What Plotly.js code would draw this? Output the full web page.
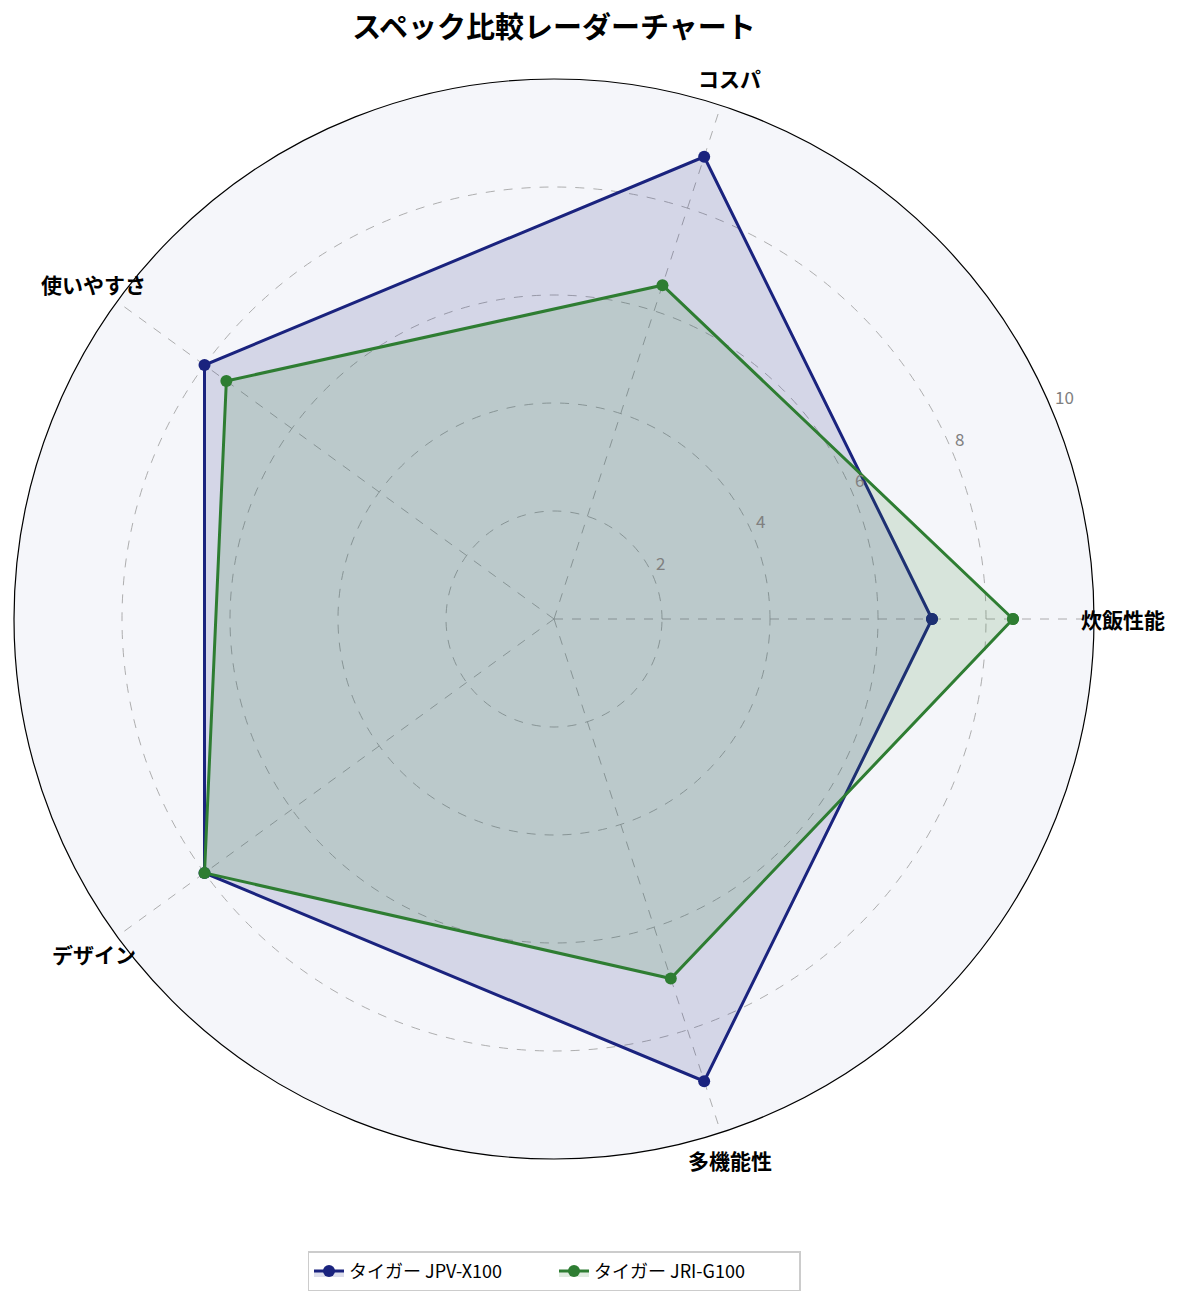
<!DOCTYPE html>
<html>
<head>
<meta charset="utf-8">
<script src="https://cdn.plot.ly/plotly-3.0.1.min.js"></script>
<style>html,body{margin:0;padding:0;background:#fff}</style>
</head>
<body>
<div id="chart" style="width:1185px;height:1304px"></div>
<script>
const categories = ["炊飯性能", "コスパ", "使いやすさ", "デザイン", "多機能性"];
const seriesNames = ["タイガー JPV-X100", "タイガー JRI-G100"];
const jpvValues = [7, 9, 8, 8, 9];
const jriValues = [8.5, 6.5, 7.5, 8, 7];
const radialTicks = [2, 4, 6, 8, 10];
const radialMax = 10;
const radialLabelAngle = 22.5;

function closeLoop(a) { return a.concat([a[0]]); }

const FONT = "'Noto Sans CJK JP', 'Noto Sans', sans-serif";

const traces = [
  {
    type: "scatterpolar",
    r: closeLoop(jpvValues),
    theta: closeLoop(categories),
    name: seriesNames[0],
    mode: "lines+markers",
    line: {color: "#1a237e", width: 3},
    marker: {color: "#1a237e", size: 12},
    fill: "toself",
    fillcolor: "rgba(26,35,126,0.15)"
  },
  {
    type: "scatterpolar",
    r: closeLoop(jriValues),
    theta: closeLoop(categories),
    name: seriesNames[1],
    mode: "lines+markers",
    line: {color: "#2e7d32", width: 3},
    marker: {color: "#2e7d32", size: 12},
    fill: "toself",
    fillcolor: "rgba(46,125,50,0.15)"
  }
];

// polar occupies the full (square) plot area: centre at paper (0.5,0.5), radius 0.5
const labelRadius = 0.527;
const categoryLabels = categories.map((c, i) => {
  const ang = i * 2 * Math.PI / categories.length;
  return {
    xref: "paper", yref: "paper",
    x: 0.5 + labelRadius * Math.cos(ang),
    y: 0.5 + labelRadius * Math.sin(ang),
    xanchor: "center", yanchor: "middle",
    text: "<b>" + c + "</b>",
    showarrow: false,
    font: {family: FONT, size: 21, color: "#000"}
  };
});

const rad = radialLabelAngle * Math.PI / 180;
const radialLabels = radialTicks.map(v => ({
  xref: "paper", yref: "paper",
  x: 0.5 + 0.5 * (v / radialMax) * Math.cos(rad),
  y: 0.5 + 0.5 * (v / radialMax) * Math.sin(rad),
  xanchor: "left", yanchor: "bottom",
  xshift: 0, yshift: 1,
  text: String(v),
  showarrow: false,
  font: {family: FONT, size: 17, color: "#808080"}
}));

const layout = {
  width: 1185,
  height: 1304,
  margin: {l: 14, r: 91, t: 79, b: 145},
  paper_bgcolor: "#ffffff",
  font: {family: FONT, color: "#000"},
  title: {
    text: "<b>スペック比較レーダーチャート</b>",
    font: {family: FONT, size: 29, color: "#000"},
    x: 0.4675, xanchor: "center",
    y: 0.979, yanchor: "middle", yref: "container"
  },
  showlegend: true,
  legend: {
    orientation: "h",
    x: 0.5, xanchor: "center",
    y: -0.104, yanchor: "middle",
    bordercolor: "#cccccc", borderwidth: 1.5,
    bgcolor: "#ffffff",
    entrywidth: 200,
    font: {family: FONT, size: 18, color: "#000"}
  },
  annotations: categoryLabels.concat(radialLabels),
  polar: {
    bgcolor: "#f5f6fa",
    domain: {x: [0, 1], y: [0, 1]},
    radialaxis: {
      range: [0, radialMax],
      tickvals: radialTicks,
      angle: radialLabelAngle,
      showticklabels: false,
      showline: false,
      ticks: "",
      gridcolor: "#9a9a9a",
      griddash: "dash",
      gridwidth: 0.8
    },
    angularaxis: {
      rotation: 0,
      direction: "counterclockwise",
      showline: true,
      linecolor: "#000000",
      linewidth: 1.2,
      gridcolor: "#9a9a9a",
      griddash: "dash",
      gridwidth: 0.8,
      ticks: "",
      showticklabels: false
    }
  }
};

Plotly.newPlot("chart", traces, layout, {displayModeBar: false, staticPlot: true});
</script>
</body>
</html>
